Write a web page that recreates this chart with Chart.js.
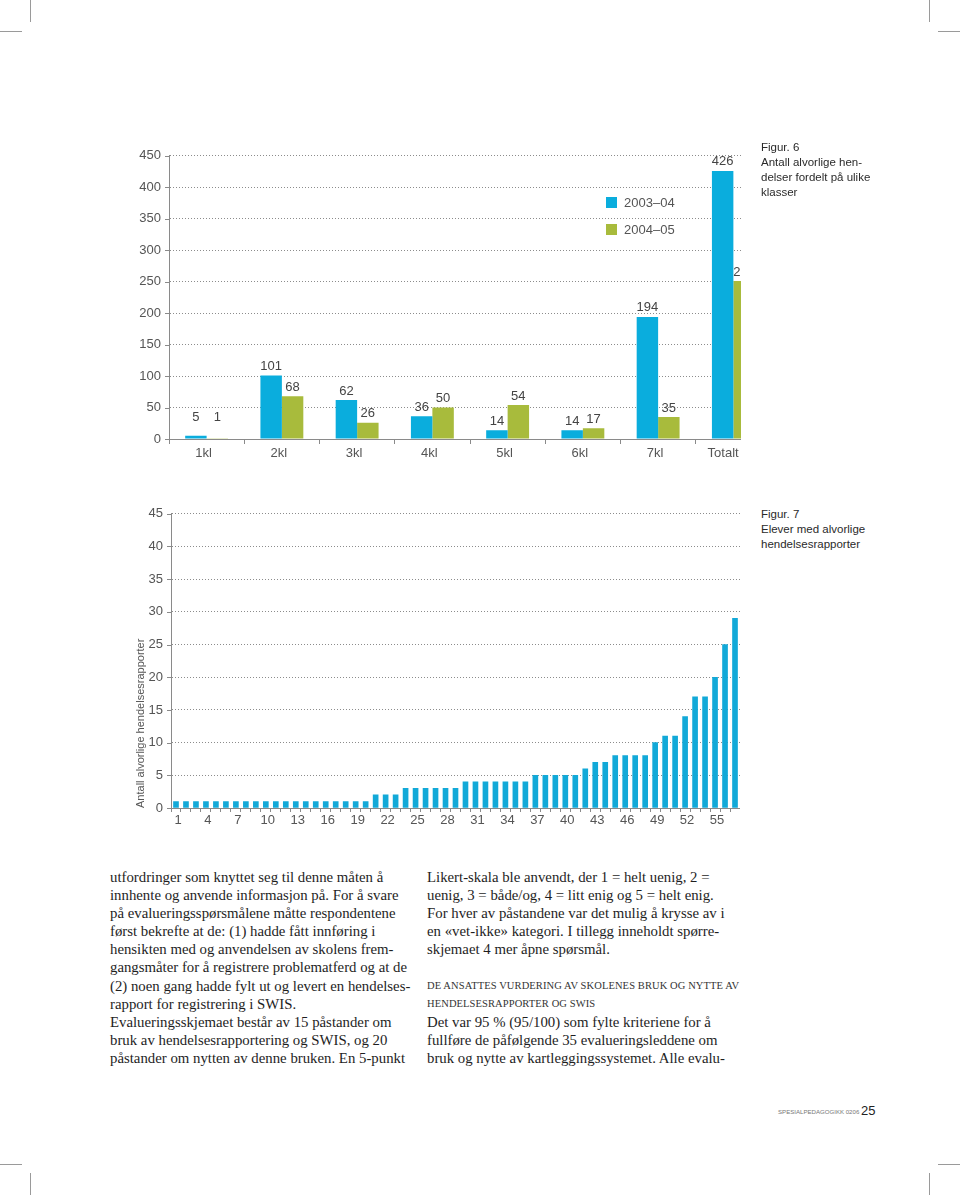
<!DOCTYPE html>
<html>
<head>
<meta charset="utf-8">
<script src="https://cdn.jsdelivr.net/npm/chart.js@4.4.1/dist/chart.umd.min.js"></script>
<style>
    body { margin: 0; background: #fff; }
    #page { position: relative; width: 960px; height: 1195px; overflow: hidden; background: #fff; }
    .mark { position: absolute; background: #9a9a9a; }
    .caption { position: absolute; left: 761px; font: 11.5px/15px "Liberation Sans", Arial, sans-serif; color: #2a2a2a; }
    .legend { position: absolute; left: 606px; font: 13px "Liberation Sans", Arial, sans-serif; color: #555; white-space: nowrap; }
    .legend div { position: relative; height: 27px; width: 120px; }
    .legend span.sw { position: absolute; left: 0; top: 0; width: 11px; height: 11px; }
    .legend span.tx { position: absolute; left: 18px; top: -2px; }
    .col { position: absolute; top: 868px; font-family: "Liberation Serif", "Times New Roman", serif; font-size: 14.8px; line-height: 18.1px; color: #1e1e1e; }
    .col div { white-space: nowrap; height: 18.1px; }
    .col .head { font-size: 10.5px; letter-spacing: 0.1px; color: #333; }
</style>
</head>
<body>
<div id="page">
    <!-- crop marks -->
    <div class="mark" style="left:30px;top:0;width:1px;height:22px"></div>
    <div class="mark" style="left:0;top:31px;width:22px;height:1px"></div>
    <div class="mark" style="left:929px;top:0;width:1px;height:22px"></div>
    <div class="mark" style="left:938px;top:31px;width:22px;height:1px"></div>
    <div class="mark" style="left:30px;top:1173px;width:1px;height:22px"></div>
    <div class="mark" style="left:0;top:1164px;width:22px;height:1px"></div>
    <div class="mark" style="left:929px;top:1173px;width:1px;height:22px"></div>
    <div class="mark" style="left:938px;top:1164px;width:22px;height:1px"></div>

    <!-- figure 6 -->
    <div style="position:absolute;left:108px;top:140px;width:663px;height:324px">
        <canvas id="classChart"></canvas>
    </div>
    <div class="legend" id="classLegend" style="top:197px"></div>
    <div class="caption" style="top:140px">Figur. 6<br>Antall alvorlige hen-<br>delser fordelt på ulike<br>klasser</div>

    <!-- figure 7 -->
    <div style="position:absolute;left:134px;top:498px;width:606px;height:332px">
        <canvas id="pupilChart"></canvas>
    </div>
    <div class="caption" style="top:507px">Figur. 7<br>Elever med alvorlige<br>hendelsesrapporter</div>

    <div class="col" style="left:110px">
        <div>utfordringer som knyttet seg til denne måten å</div>
        <div>innhente og anvende informasjon på. For å svare</div>
        <div>på evalueringsspørsmålene måtte respondentene</div>
        <div>først bekrefte at de: (1) hadde fått innføring i</div>
        <div>hensikten med og anvendelsen av skolens frem-</div>
        <div>gangsmåter for å registrere problematferd og at de</div>
        <div>(2) noen gang hadde fylt ut og levert en hendelses-</div>
        <div>rapport for registrering i SWIS.</div>
        <div>Evalueringsskjemaet består av 15 påstander om</div>
        <div>bruk av hendelsesrapportering og SWIS, og 20</div>
        <div>påstander om nytten av denne bruken. En 5-punkt</div>
    </div>
    <div class="col" style="left:427px">
        <div>Likert-skala ble anvendt, der 1 = helt uenig, 2 =</div>
        <div>uenig, 3 = både/og, 4 = litt enig og 5 = helt enig.</div>
        <div>For hver av påstandene var det mulig å krysse av i</div>
        <div>en «vet-ikke» kategori. I tillegg inneholdt spørre-</div>
        <div>skjemaet 4 mer åpne spørsmål.</div>
        <div></div>
        <div class="head">DE ANSATTES VURDERING AV SKOLENES BRUK OG NYTTE AV</div>
        <div class="head">HENDELSESRAPPORTER OG SWIS</div>
        <div>Det var 95 % (95/100) som fylte kriteriene for å</div>
        <div>fullføre de påfølgende 35 evalueringsleddene om</div>
        <div>bruk og nytte av kartleggingssystemet. Alle evalu-</div>
    </div>

    <div style="position:absolute;left:778px;top:1108px;font:6.1px 'Liberation Sans',Arial,sans-serif;color:#777">SPESIALPEDAGOGIKK 0206</div>
    <div style="position:absolute;left:861px;top:1103px;font:13px 'Liberation Sans',Arial,sans-serif;color:#222">25</div>
</div>

<script>
// Figur 6 data
const classLabels = ['1kl', '2kl', '3kl', '4kl', '5kl', '6kl', '7kl', 'Totalt'];
const seriesNames = ['2003–04', '2004–05'];
const values0304 = [5, 101, 62, 36, 14, 14, 194, 426];
const values0405 = [1, 68, 26, 50, 54, 17, 35, 251];
const classTicks = [0, 50, 100, 150, 200, 250, 300, 350, 400, 450];

// Figur 7 data: one bar per pupil, sorted
const pupilLabels = [];
for (let i = 1; i <= 57; i++) pupilLabels.push(String(i));
const pupilReports = [
    1, 1, 1, 1, 1, 1, 1, 1, 1, 1, 1, 1, 1, 1, 1, 1, 1, 1, 1, 1,
    2, 2, 2,
    3, 3, 3, 3, 3, 3,
    4, 4, 4, 4, 4, 4, 4,
    5, 5, 5, 5, 5,
    6, 7, 7, 8, 8, 8, 8,
    10, 11, 11, 14, 17, 17, 20, 25, 29
];
const pupilTicks = [0, 5, 10, 15, 20, 25, 30, 35, 40, 45];

const blue = '#0aaddd';
const green = '#a8bb3c';
const tickFont = { family: '"Liberation Sans", Arial, sans-serif', size: 13 };
const tickColor = '#555';

// legend for fig 6 (html)
const legendColors = [blue, green];
document.getElementById('classLegend').innerHTML = seriesNames.map((n, i) =>
    '<div><span class="sw" style="background:' + legendColors[i] + '"></span><span class="tx">' + n + '</span></div>'
).join('');

// short solid tick marks left of the y axis
const yTickMarks = {
    id: 'yTickMarks',
    afterDraw(chart) {
        const s = chart.scales.y;
        const ctx = chart.ctx;
        ctx.save();
        ctx.strokeStyle = '#8a8a8a';
        ctx.lineWidth = 1;
        s.ticks.forEach(t => {
            const y = Math.round(s.getPixelForValue(t.value)) + 0.5;
            ctx.beginPath();
            ctx.moveTo(s.right - 4, y);
            ctx.lineTo(s.right, y);
            ctx.stroke();
        });
        ctx.restore();
    }
};

// value labels above the bars of fig 6
const valueLabels = {
    id: 'valueLabels',
    afterDatasetsDraw(chart) {
        const ctx = chart.ctx;
        ctx.save();
        ctx.font = '13px "Liberation Sans", Arial, sans-serif';
        ctx.fillStyle = '#444';
        ctx.textAlign = 'center';
        ctx.textBaseline = 'middle';
        chart.data.datasets.forEach((ds, i) => {
            chart.getDatasetMeta(i).data.forEach((bar, j) => {
                let y = bar.y - 9;
                if (bar.base - bar.y < 8) y = bar.base - 21;
                ctx.fillText(ds.data[j], bar.x, y);
            });
        });
        ctx.restore();
    }
};

// the printed figure is cut off at the right edge, just past the Totalt bars
const rightCrop = {
    id: 'rightCrop',
    afterDraw(chart) {
        const ctx = chart.ctx;
        const cropX = 633;
        ctx.save();
        ctx.fillStyle = '#fff';
        ctx.fillRect(cropX, 0, chart.width - cropX, chart.scales.x.top + 7);
        ctx.restore();
    }
};

function yScale(max, width, ticks, title) {
    return {
        min: 0,
        max: max,
        afterFit: function (scale) { scale.width = width; },
        afterBuildTicks: function (scale) { scale.ticks = ticks.map(v => ({ value: v })); },
        ticks: { font: tickFont, color: tickColor, padding: 8 },
        grid: { color: 'rgba(0, 0, 0, 0.45)', drawTicks: false },
        border: { display: true, color: '#8a8a8a', dash: [1, 2] },
        title: title
    };
}

new Chart(document.getElementById('classChart').getContext('2d'), {
    type: 'bar',
    data: {
        labels: classLabels,
        datasets: [{
            label: seriesNames[0],
            data: values0304,
            backgroundColor: blue
        }, {
            label: seriesNames[1],
            data: values0405,
            backgroundColor: green
        }]
    },
    options: {
        responsive: true,
        maintainAspectRatio: false,
        animation: false,
        datasets: { bar: { categoryPercentage: 0.57, barPercentage: 1.0 } },
        plugins: { legend: { display: false }, tooltip: { enabled: false } },
        layout: { padding: { top: 10, left: 0, right: 0, bottom: 0 } },
        scales: {
            x: {
                afterFit: function (scale) { scale.height = 25; },
                ticks: {
                    font: tickFont,
                    color: tickColor,
                    padding: 2,
                    maxRotation: 0,
                    labelOffset: -3,
                    callback: function (val, i) {
                        // last label sits a little left of its category in the print
                        return i === classLabels.length - 1 ? classLabels[i] + '\u2007\u2007' : classLabels[i];
                    }
                },
                grid: { drawOnChartArea: false, drawTicks: true, tickLength: 5, color: '#8a8a8a' },
                border: { display: true, color: '#8a8a8a' }
            },
            y: yScale(450, 61, classTicks, { display: false })
        }
    },
    plugins: [valueLabels, yTickMarks, rightCrop]
});

new Chart(document.getElementById('pupilChart').getContext('2d'), {
    type: 'bar',
    data: {
        labels: pupilLabels,
        datasets: [{
            label: 'Antall alvorlige hendelsesrapporter',
            data: pupilReports,
            backgroundColor: '#12a9d8',
            barThickness: 5
        }]
    },
    options: {
        responsive: true,
        maintainAspectRatio: false,
        animation: false,
        plugins: { legend: { display: false }, tooltip: { enabled: false } },
        layout: { padding: { top: 10, left: 0, right: 0, bottom: 0 } },
        scales: {
            x: {
                afterFit: function (scale) { scale.height = 22; },
                ticks: {
                    font: tickFont,
                    color: tickColor,
                    padding: 1,
                    autoSkip: false,
                    maxRotation: 0,
                    minRotation: 0,
                    labelOffset: 2,
                    callback: function (val, i) { return i % 3 === 0 ? pupilLabels[i] : ''; }
                },
                grid: { drawOnChartArea: false, drawTicks: true, tickLength: 4, color: '#8a8a8a' },
                border: { display: true, color: '#8a8a8a' }
            },
            y: yScale(45, 37, pupilTicks, {
                display: true,
                text: 'Antall alvorlige hendelsesrapporter',
                align: 'start',
                color: tickColor,
                font: { family: '"Liberation Sans", Arial, sans-serif', size: 11 },
                padding: { top: 0, bottom: 0 }
            })
        }
    },
    plugins: [yTickMarks]
});
</script>
</body>
</html>
